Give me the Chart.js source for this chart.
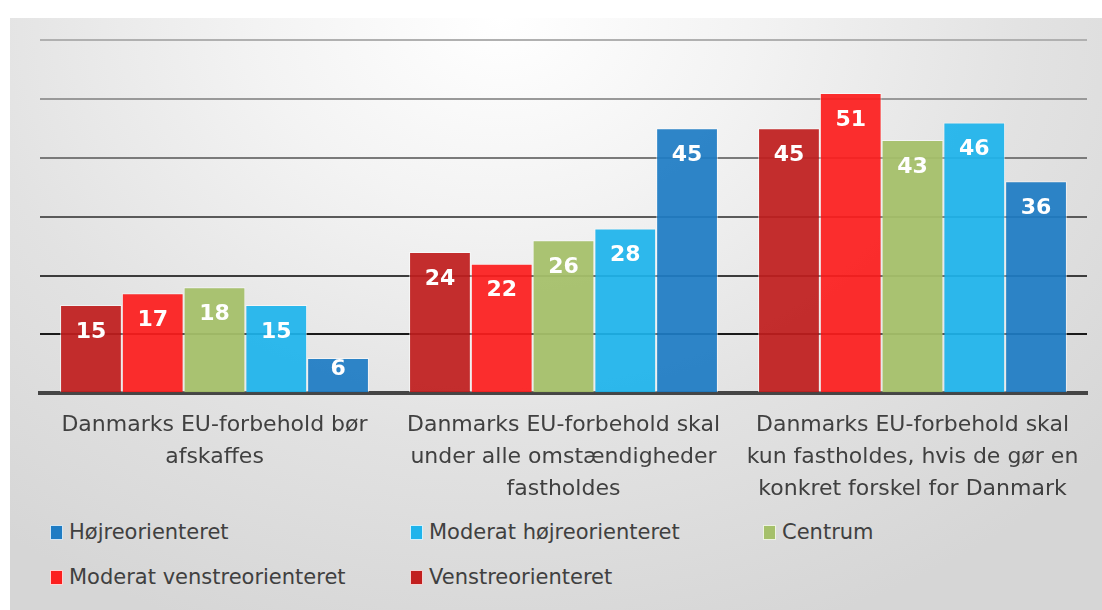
<!DOCTYPE html>
<html>
<head>
<meta charset="utf-8">
<script src="https://cdn.jsdelivr.net/npm/chart.js@4/dist/chart.umd.min.js"></script>
<style>
    body { margin: 0; background: #fff; width: 1102px; height: 610px; overflow: hidden; position: relative; font-family: "DejaVu Sans", sans-serif; }
    .panel { position: absolute; left: 10px; top: 18px; right: 0; bottom: 0;
        background: radial-gradient(ellipse 75% 110% at 45% 0%, #ffffff 0%, #f3f3f3 30%, #e2e2e2 65%, #d6d6d6 100%); }
    .chart-box { position: absolute; left: 0; top: 0; width: 1102px; height: 513px; }
    .legend-item { position: absolute; font-size: 21px; color: #404040; white-space: nowrap; line-height: 24px; }
    .legend-item span { display: inline-block; width: 11px; height: 13px; margin-right: 6px; border: 1px solid rgba(255,255,255,0.8); vertical-align: -1px; }
</style>
</head>
<body>
<div class="panel"></div>
<div class="chart-box"><canvas id="myChart"></canvas></div>
<div id="legend"></div>
<script>
const categories = [
    ['Danmarks EU-forbehold bør', 'afskaffes'],
    ['Danmarks EU-forbehold skal', 'under alle omstændigheder', 'fastholdes'],
    ['Danmarks EU-forbehold skal', 'kun fastholdes, hvis de gør en', 'konkret forskel for Danmark']
];
const seriesNames = ['Venstreorienteret', 'Moderat venstreorienteret', 'Centrum', 'Moderat højreorienteret', 'Højreorienteret'];
const venstre = [15, 24, 45];
const moderatVenstre = [17, 22, 51];
const centrum = [18, 26, 43];
const moderatHojre = [15, 28, 46];
const hojre = [6, 45, 36];
const colors = ['rgba(192,30,30,0.93)', 'rgba(252,30,30,0.93)', 'rgba(165,192,106,0.95)', 'rgba(30,180,236,0.93)', 'rgba(30,124,196,0.93)'];
const legendColors = ['#c21e1e', '#fc1e1e', '#a5c06a', '#1eb4ec', '#1e7cc4'];

//---------- grid colours, light at the top, dark near the base
const gridColors = {10: '#1a1a1a', 20: '#3c3c3c', 30: '#5a5a5a', 40: '#7a7a7a', 50: '#999999', 60: '#b0b0b0'};

const values = [venstre, moderatVenstre, centrum, moderatHojre, hojre];

const labelPlugin = {
    id: 'barLabels',
    afterDatasetsDraw(chart) {
        const c = chart.ctx;
        c.save();
        c.font = 'bold 22px "DejaVu Sans"';
        c.fillStyle = '#ffffff';
        c.textAlign = 'center';
        c.textBaseline = 'middle';
        chart.data.datasets.forEach((ds, i) => {
            chart.getDatasetMeta(i).data.forEach((bar, j) => {
                const h = bar.base - bar.y;
                const y = bar.y + Math.min(27, h * 0.32);
                c.fillText(ds.data[j], bar.x, y);
            });
        });
        c.restore();
    }
};

const ctx = document.getElementById('myChart');
new Chart(ctx, {
    type: 'bar',
    data: {
        labels: categories,
        datasets: seriesNames.map((name, i) => ({
            label: name,
            data: values[i],
            backgroundColor: colors[i],
            borderColor: 'rgba(255,255,255,0.55)',
            borderWidth: 1,
            categoryPercentage: 0.885,
            barPercentage: 1
        }))
    },
    options: {
        responsive: true,
        maintainAspectRatio: false,
        animation: false,
        layout: { padding: { left: 40, right: 15, top: 40, bottom: 0 } },
        scales: {
            x: {
                grid: { display: false },
                border: { color: '#454545', width: 4 },
                ticks: {
                    color: '#404040',
                    font: { size: 22, family: 'DejaVu Sans', lineHeight: 1.45 },
                    padding: 8,
                    maxRotation: 0,
                    autoSkip: false
                }
            },
            y: {
                min: 0,
                max: 60,
                ticks: { display: false, stepSize: 10 },
                border: { display: false },
                grid: {
                    drawTicks: false,
                    lineWidth: 2,
                    color: (c) => gridColors[c.tick.value] || '#454545'
                }
            }
        },
        plugins: {
            legend: { display: false },
            tooltip: { enabled: false }
        }
    },
    plugins: [labelPlugin]
});

//---------- legend, reversed order in a 3 column grid
const legendPos = [[50, 520], [410, 520], [763, 520], [50, 565], [410, 565]];
const legend = document.getElementById('legend');
seriesNames.slice().reverse().forEach((name, k) => {
    const i = seriesNames.length - 1 - k;
    const el = document.createElement('div');
    el.className = 'legend-item';
    el.style.left = legendPos[k][0] + 'px';
    el.style.top = legendPos[k][1] + 'px';
    el.innerHTML = '<span style="background:' + legendColors[i] + '"></span>' + name;
    legend.appendChild(el);
});
</script>
</body>
</html>
